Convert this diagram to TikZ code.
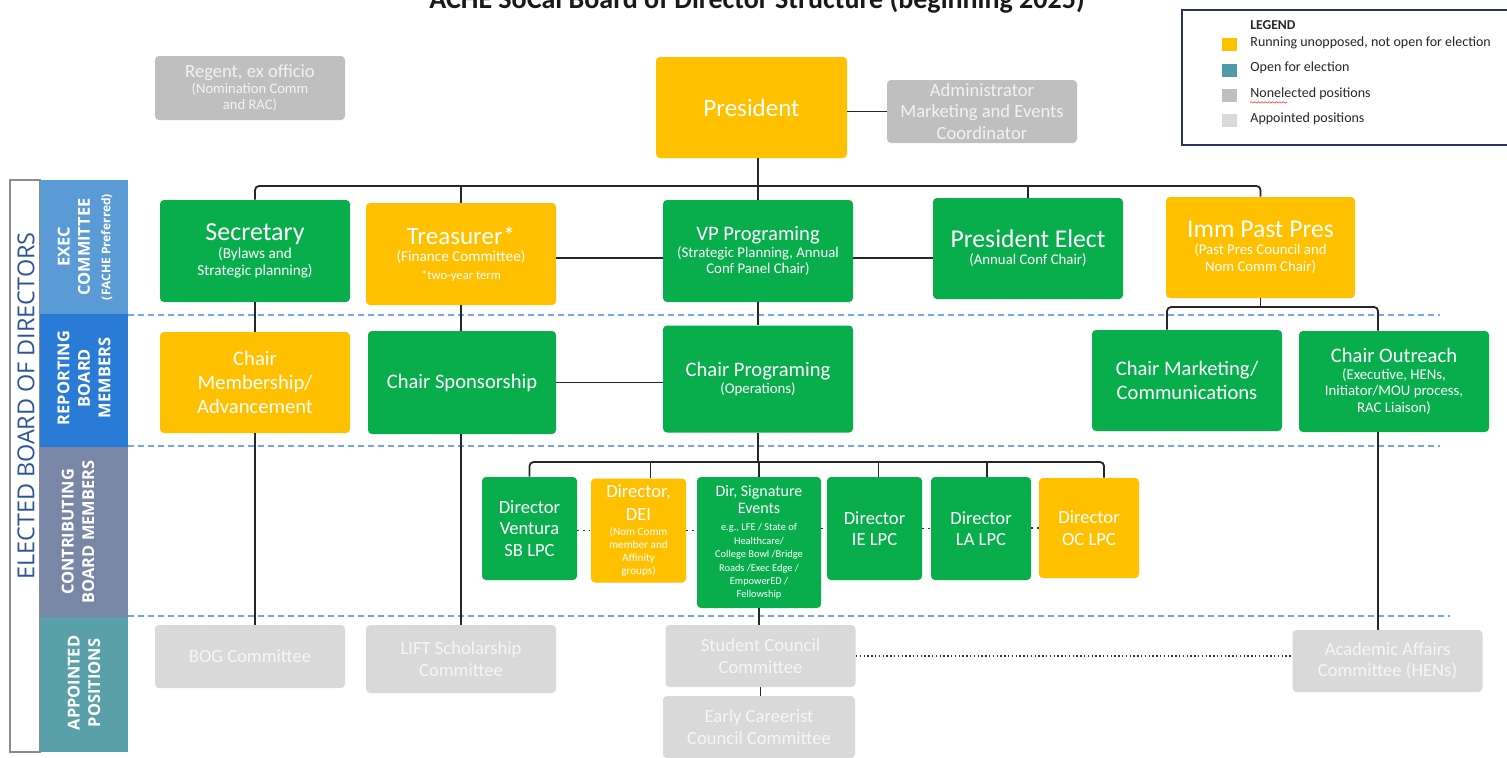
\documentclass[tikz,border=0pt]{standalone}
\usepackage{fontspec}
\setmainfont{Carlito}
\newfontfamily\sidef{Open Sans}
\usetikzlibrary{decorations.pathmorphing}
\definecolor{cgreen}{RGB}{8,173,76}
\definecolor{cyellow}{RGB}{255,192,0}
\definecolor{cgray}{RGB}{191,191,191}
\definecolor{clight}{RGB}{217,217,217}
\definecolor{cgtext}{RGB}{242,242,242}
\definecolor{catext}{RGB}{246,246,246}
\definecolor{cexec}{RGB}{91,155,213}
\definecolor{crep}{RGB}{42,123,214}
\definecolor{ccont}{RGB}{120,135,165}
\definecolor{capp}{RGB}{90,160,168}
\definecolor{cteal}{RGB}{78,154,166}
\definecolor{cdash}{RGB}{115,165,240}
\definecolor{cside}{RGB}{47,84,150}
\definecolor{cnavy}{RGB}{40,52,100}
\newcommand{\setfs}[2]{\fontsize{#1}{#2}\selectfont}
\begin{document}
\begin{tikzpicture}[x=0.5pt,y=-0.5pt,
  box/.style={rounded corners=2pt, inner sep=0pt, align=center, text=white},
  grn/.style={box, fill=cgreen},
  ylw/.style={box, fill=cyellow},
  nel/.style={box, fill=cgray, text=cgtext},
  apt/.style={box, fill=clight, text=catext},
  wh/.style 2 args={minimum width=#1*0.5pt, minimum height=#2*0.5pt},
  conn/.style={draw=black!85, line width=0.9pt},
  dotc/.style={draw=black!80, line width=0.9pt, dash pattern=on 0.7pt off 2.2pt},
  dotd/.style={draw=black!80, line width=0.9pt, dash pattern=on 0.7pt off 1.2pt},
  band/.style={draw=cdash, line width=1pt, dash pattern=on 3pt off 2pt},
  sq/.style={minimum width=7.5pt, minimum height=6.5pt, inner sep=0pt},
  legtxt/.style={anchor=west, inner sep=0pt, font=\setfs{7}{8}, text=black!85},
  side/.style={rotate=90, text=white, align=center, font=\sidef\bfseries\setfs{8.2}{10.2}}
]
\useasboundingbox (0,0) rectangle (1507,757);
\fill[white] (0,0) rectangle (1507,757);

% title
\node[anchor=base, inner sep=0pt, font=\bfseries\setfs{14}{16}, text=black!90] (title) at (757,8) {ACHE SoCal Board of Director Structure (beginning 2025)};

% side panel
\draw[draw=black!45, fill=white, line width=0.6pt] (10,180) rectangle (40,752);
\fill[cexec] (40,180) rectangle (128,314);
\fill[crep] (40,314) rectangle (128,447);
\fill[ccont] (40,447) rectangle (128,617);
\fill[capp] (40,617) rectangle (128,752);
\node[rotate=90, inner sep=0pt, text=cside, font=\sidef\setfs{11.7}{13}] (elected) at (26,406) {ELECTED BOARD OF DIRECTORS};
\node[side] (exec) at (85,247) {EXEC\\COMMITTEE\\{\setfs{6}{10.2}(FACHE Preferred)}};
\node[side] (rep) at (84,378) {REPORTING\\BOARD\\MEMBERS};
\node[side] (cont) at (78,532) {CONTRIBUTING\\BOARD MEMBERS};
\node[side] (appt) at (84,683) {APPOINTED\\POSITIONS};

% dashed bands
\draw[band] (128,315) -- (1440,315);
\draw[band] (128,446) -- (1440,446);
\draw[band] (128,616) -- (1450,616);

% legend
\draw[cnavy, line width=1pt] (1182,10) rectangle (1515,145);
\node[legtxt, font=\bfseries\setfs{6.8}{8}] (leg) at (1250,25) {LEGEND};
\node[sq, fill=cyellow] (s1) at (1229.5,44) {};
\node[sq, fill=cteal] (s2) at (1229.5,70) {};
\node[sq, fill=cgray] (s3) at (1229.5,95) {};
\node[sq, fill=clight] (s4) at (1229.5,120) {};
\node[legtxt] (l1) at (1250,43) {Running unopposed, not open for election};
\node[legtxt] (l2) at (1250,68) {Open for election};
\node[legtxt] (l3) at (1250,94) {Nonelected positions};
\node[legtxt] (l4) at (1250,119) {Appointed positions};
\draw[red!80, line width=0.3pt, decorate, decoration={snake, amplitude=0.35pt, segment length=1.8pt}] ([yshift=-1pt]l3.south west) -- ++(37,0);

% top
\node[nel, wh={190}{64}, font=\setfs{7.3}{8.2}] (regent) at (250,88) {{\setfs{9.3}{11}Regent, ex officio}\\(Nomination Comm\\and RAC)};
\node[ylw, wh={191}{101}, font=\setfs{12.5}{14}] (pres) at (751.5,107.5) {President};
\node[nel, wh={190}{63}, font=\setfs{9.3}{10.8}] (admin) at (982,111.5) {Administrator\\Marketing and Events\\Coordinator};

% row 1
\node[grn, wh={190}{102}, font=\setfs{7.6}{8.6}] (sec) at (255,251) {{\setfs{13}{15}Secretary}\\(Bylaws and\\Strategic planning)};
\node[ylw, wh={190}{102}, font=\setfs{7.6}{8.6}] (tre) at (461,254) {{\setfs{12.5}{14}Treasurer*}\\(Finance Committee)\\{\setfs{6.3}{7.5}*two-year term}};
\node[grn, wh={190}{102}, font=\setfs{7.4}{8.4}] (vp) at (758,251) {{\setfs{10.3}{12}VP Programing}\\(Strategic Planning, Annual\\Conf Panel Chair)};
\node[grn, wh={190}{101}, font=\setfs{7.4}{8.5}] (pe) at (1028,248.5) {{\setfs{12.8}{14}President Elect}\\(Annual Conf Chair)};
\node[ylw, wh={189}{101}, font=\setfs{7.4}{8.5}] (imm) at (1260.5,247.5) {{\setfs{12.8}{14}Imm Past Pres}\\(Past Pres Council and\\Nom Comm Chair)};

% row 2
\node[ylw, wh={190}{101}, font=\setfs{10.3}{11.8}] (mem) at (255,382.5) {Chair\\Membership/\\Advancement};
\node[grn, wh={188}{103}, font=\setfs{10.3}{11.8}] (spo) at (462,382.5) {Chair Sponsorship};
\node[grn, wh={190}{107}, font=\setfs{7.4}{8.5}] (prog) at (758,379) {{\setfs{10.3}{12}Chair Programing}\\(Operations)};
\node[grn, wh={190}{101}, font=\setfs{10.3}{11.8}] (mkt) at (1187,380.5) {Chair Marketing/\\Communications};
\node[grn, wh={190}{101}, font=\setfs{7.4}{8.3}] (out) at (1394,381.5) {{\setfs{10.3}{12}Chair Outreach}\\(Executive, HENs,\\Initiator/MOU process,\\RAC Liaison)};

% row 3
\node[grn, wh={95}{103}, font=\setfs{9.3}{10.8}] (ven) at (529.5,528.5) {Director\\Ventura\\SB LPC};
\node[ylw, wh={95}{104}, font=\setfs{5.6}{6.5}] (dei) at (638.5,530.5) {{\setfs{9.3}{10.8}Director,}\\[2.9pt]{\setfs{9.3}{10.8}DEI}\\[1pt](Nom Comm\\member and\\Affinity\\groups)};
\node[grn, wh={124}{131}, font=\setfs{5.2}{6.7}] (sig) at (759,542.5) {{\setfs{8}{10}Dir, Signature}\\[2pt]{\setfs{8}{10}Events}\\[1.8pt]e.g., LFE / State of\\Healthcare/\\College Bowl /Bridge\\Roads /Exec Edge /\\EmpowerED /\\Fellowship};
\node[grn, wh={95}{103}, font=\setfs{9.3}{10.8}] (ie) at (874.5,528.5) {Director\\IE LPC};
\node[grn, wh={100}{103}, font=\setfs{9.3}{10.8}] (la) at (981,528.5) {Director\\LA LPC};
\node[ylw, wh={100}{100}, font=\setfs{9.3}{10.8}] (oc) at (1089,528) {Director\\OC LPC};

% row 4
\node[apt, wh={190}{63}, font=\setfs{9.3}{10.8}] (bog) at (250,656.5) {BOG Committee};
\node[apt, wh={190}{68}, font=\setfs{9.3}{10.8}] (lift) at (461,659) {LIFT Scholarship\\Committee};
\node[apt, wh={190}{62}, font=\setfs{9.3}{10.8}] (sc) at (760.5,656) {Student Council\\Committee};
\node[apt, wh={192}{62}, font=\setfs{9.3}{10.8}] (ec) at (759,727) {Early Careerist\\Council Committee};
\node[apt, wh={190}{62}, font=\setfs{9.3}{10.8}] (acad) at (1387.5,661) {Academic Affairs\\Committee (HENs)};

% connectors
\coordinate (busA) at (0,186);
\coordinate (r1) at (0,258);
\coordinate (busB) at (0,307);
\coordinate (busC) at (0,462);
\draw[conn, rounded corners=2pt] (sec.north) |- (imm.north |- busA) -- (imm.north);
\draw[conn] (tre.north) -- (tre.north |- busA);
\draw[conn] (pe.north) -- (pe.north |- busA);
\draw[conn] (pres.south -| vp.north) -- (vp.north);
\draw[conn] (pres.east |- admin.west) -- (admin.west);
\draw[conn] (tre.east |- r1) -- (vp.west |- r1);
\draw[conn] (vp.east |- r1) -- (pe.west |- r1);
\draw[conn] (sec.south) -- (sec.south |- mem.north);
\draw[conn] (tre.south) -- (tre.south |- spo.north);
\draw[conn] (vp.south) -- (prog.north);
\draw[conn] (spo.east) -- (spo.east -| prog.west);
\draw[conn] (imm.south) -- (imm.south |- busB);
\draw[conn, rounded corners=2pt] ([xshift=-10pt]mkt.north) |- ([xshift=-8pt]out.north |- busB) -- ([xshift=-8pt]out.north);
\draw[conn] ([xshift=-8pt]out.south) -- ([xshift=-8pt]out.south |- acad.north);
\draw[conn] (mem.south) -- (mem.south |- bog.north);
\draw[conn] (tre.south |- spo.south) -- (tre.south |- lift.north);
\draw[conn] (prog.south) -- (prog.south |- busC);
\draw[conn, rounded corners=2pt] (ven.north) |- ([xshift=7.5pt]oc.north |- busC) -- ([xshift=7.5pt]oc.north);
\draw[conn] ([xshift=6pt]dei.north) -- ([xshift=6pt]dei.north |- busC);
\draw[conn] (sig.north) -- (sig.north |- busC);
\draw[conn] ([xshift=2pt]ie.north) -- ([xshift=2pt]ie.north |- busC);
\draw[conn] ([xshift=3pt]la.north) -- ([xshift=3pt]la.north |- busC);
\draw[conn] (sig.south) -- (sig.south |- sc.north);
\draw[conn] (sc.south) -- (sc.south |- ec.north);
\draw[dotc] (dei.west -| ven.east) -- (dei.west);
\draw[dotc] (dei.east) -- (dei.east -| sig.west);
\draw[dotc] (ie.west -| sig.east) -- (ie.west);
\draw[dotc] (ie.east) -- (ie.east -| la.west);
\draw[dotc] (oc.west -| la.east) -- (oc.west);
\draw[dotd] (sc.east) -- (sc.east -| acad.west);
\end{tikzpicture}
\end{document}
